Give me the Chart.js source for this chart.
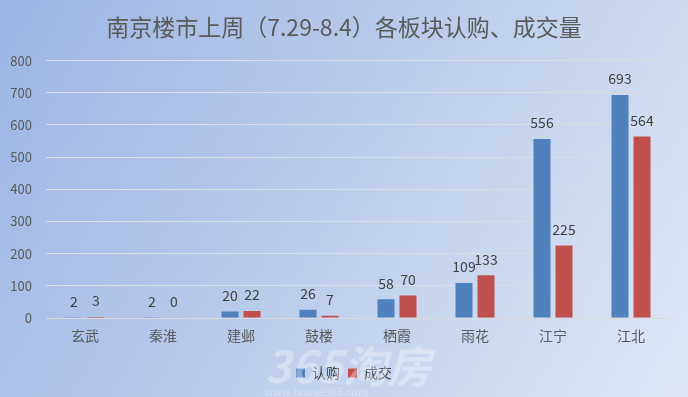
<!DOCTYPE html>
<html><head><meta charset="utf-8">
<script src="https://cdn.jsdelivr.net/npm/chart.js@4"></script>
<style>html,body{margin:0;padding:0;}#wrap{width:688px;height:397px;}</style>
</head><body><div id="wrap"><canvas id="c" width="688" height="397"></canvas></div>
<script>
const categories = ['玄武','秦淮','建邺','鼓楼','栖霞','雨花','江宁','江北'];
const subscribed = [2,2,20,26,58,109,556,693];
const traded = [3,0,22,7,70,133,225,564];
const seriesNames = ['认购','成交'];
const titleText = '南京楼市上周（7.29-8.4）各板块认购、成交量';
const FONT = '"Noto Sans CJK SC","Noto Sans",sans-serif';

const bgPlugin = {
  id:'bg',
  beforeDraw(chart){
    const {ctx,width,height} = chart;
    const g = ctx.createLinearGradient(0,0,width,height);
    g.addColorStop(0,'#9bb6e4');
    g.addColorStop(0.5,'#bccdec');
    g.addColorStop(1,'#dfe7f5');
    ctx.save(); ctx.fillStyle=g; ctx.fillRect(0,0,width,height); ctx.restore();
  }
};
const watermark = {
  id:'wm',
  afterDatasetsDraw(chart){
    const ctx = chart.ctx;
    ctx.save();
    ctx.fillStyle='rgba(255,255,255,0.33)';
    ctx.font='italic bold 44px '+FONT;
    ctx.textAlign='center'; ctx.textBaseline='middle';
    ctx.fillText('365淘房',348,366);
    ctx.font='11px '+FONT;
    ctx.fillText('www.house365.com',316,392);
    ctx.restore();
  }
};
const labels = {
  id:'lbl',
  afterDatasetsDraw(chart){
    const ctx = chart.ctx;
    ctx.save();
    ctx.font='14px '+FONT;
    ctx.fillStyle='#404040';
    ctx.textAlign='center'; ctx.textBaseline='bottom';
    chart.data.datasets.forEach((ds,i)=>{
      chart.getDatasetMeta(i).data.forEach((bar,j)=>{
        ctx.fillText(String(ds.data[j]), bar.x, bar.y-9);
      });
    });
    ctx.restore();
  }
};
new Chart(document.getElementById('c'),{
  type:'bar',
  data:{labels:categories,datasets:[
    {label:seriesNames[0],data:subscribed,backgroundColor:'#4f81bd',categoryPercentage:0.564,barPercentage:0.773},
    {label:seriesNames[1],data:traded,backgroundColor:'#c0504d',categoryPercentage:0.564,barPercentage:0.773}
  ]},
  options:{
    responsive:false,animation:false,
    layout:{padding:{left:9,right:9,top:0,bottom:7}},
    plugins:{
      title:{display:true,text:titleText,color:'#5a5a5a',font:{family:FONT,size:23,weight:'normal'},padding:{top:13,bottom:20}},
      legend:{position:'bottom',labels:{boxWidth:9,boxHeight:9,color:'#404040',font:{family:FONT,size:14},padding:8}},
      tooltip:{enabled:false}
    },
    scales:{
      x:{grid:{display:false,drawTicks:false},border:{color:'#d9d9d9'},ticks:{color:'#595959',font:{family:FONT,size:14},padding:9},
         afterFit(s){s.height=40;}},
      y:{min:0,max:800,grid:{color:'#dadde3',drawTicks:false},border:{display:false},
         ticks:{stepSize:100,color:'#595959',font:{family:FONT,size:13},padding:14},
         afterFit(s){s.width=37;}},
      yR:{position:'right',display:true,grid:{display:false,drawTicks:false},border:{display:false},
         ticks:{display:false},afterFit(s){s.width=9;}}
    }
  },
  plugins:[bgPlugin,labels,watermark]
});
</script></body></html>
